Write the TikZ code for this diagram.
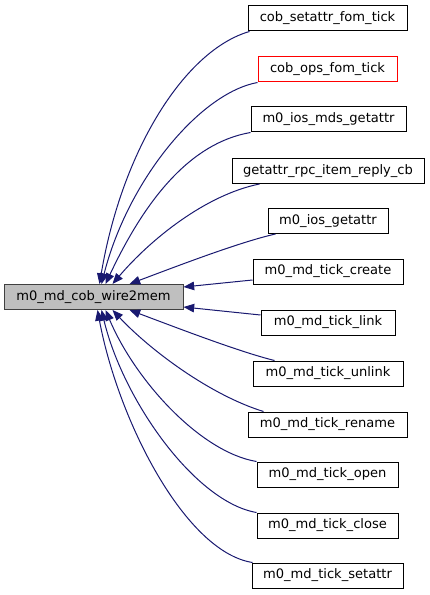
\documentclass[tikz,border=0pt]{standalone}
\usepackage{fontspec}
\setmainfont{DejaVu Sans}
\usetikzlibrary{arrows.meta,calc}
\definecolor{edgeblue}{HTML}{191970}
\definecolor{mainfill}{HTML}{BFBFBF}
\tikzset{
  box/.style={draw=black, line width=0.75pt, fill=white, inner sep=0pt, minimum height=18.75pt, font=\fontsize{9.8}{11}\selectfont},
  mainbox/.style={box, fill=mainfill, draw=black!75},
  redbox/.style={box, draw=red},
  edge/.style={draw=edgeblue, line width=0.75pt, {Triangle[length=8pt,width=6.4pt]}-}
}
\begin{document}
\begin{tikzpicture}[x=0.75pt,y=-0.75pt]
\useasboundingbox (0,0) rectangle (429,595);
\node[mainbox, minimum width=134.25pt] (main) at (93.5,297) {m0\_md\_cob\_wire2mem};
\node[box, minimum width=119.25pt] (n1) at (327.5,18.5) {cob\_setattr\_fom\_tick};
\node[redbox, minimum width=104.25pt] (n2) at (327.5,69.5) {cob\_ops\_fom\_tick};
\node[box, minimum width=116.25pt] (n3) at (328.5,119.5) {m0\_ios\_mds\_getattr};
\node[box, minimum width=144pt] (n4) at (328,171) {getattr\_rpc\_item\_reply\_cb};
\node[box, minimum width=90pt] (n5) at (328,221) {m0\_ios\_getattr};
\node[box, minimum width=112.5pt] (n6) at (328,271.5) {m0\_md\_tick\_create};
\node[box, minimum width=100.5pt] (n7) at (328,322.5) {m0\_md\_tick\_link};
\node[box, minimum width=112.5pt] (n8) at (328,373.5) {m0\_md\_tick\_unlink};
\node[box, minimum width=119.25pt] (n9) at (327.5,424.5) {m0\_md\_tick\_rename};
\node[box, minimum width=105.75pt] (n10) at (327.5,474.5) {m0\_md\_tick\_open};
\node[box, minimum width=105.75pt] (n11) at (327.5,525.5) {m0\_md\_tick\_close};
\node[box, minimum width=113.25pt] (n12) at (327.5,575.5) {m0\_md\_tick\_setattr};
% edges (arrow at main)
\draw[edge] ($(main.north west)+(96,0)$) .. controls (122,150) and (185,50) .. ($(n1.south west)+(2,0)$);
\draw[edge] ($(main.north west)+(98,0)$) .. controls (128,180) and (200,93) .. ($(n2.south west)+(0,0)$);
\draw[edge] ($(main.north west)+(102,0)$) .. controls (145,200) and (190,143) .. ($(n3.south west)+(0,0)$);
\draw[edge] ($(main.north west)+(109,0)$) .. controls (150,240) and (205,195) .. ($(n4.south west)+(28,0)$);
\draw[edge] ($(main.north west)+(126,0)$) .. controls (180,265) and (240,242) .. ($(n5.south west)+(8,0)$);
\draw[edge] ($(main.east)+(0,-10)$) -- ($(n6.west)+(0,8.5)$);
\draw[edge] ($(main.east)+(0,10)$) -- ($(n7.west)+(0,-7.5)$);
\draw[edge] ($(main.south west)+(126,0)$) .. controls (180,329) and (240,352) .. ($(n8.north west)+(22,0)$);
\draw[edge] ($(main.south west)+(109,0)$) .. controls (150,350) and (210,395) .. ($(n9.north west)+(16,0)$);
\draw[edge] ($(main.south west)+(102,0)$) .. controls (135,380) and (200,452) .. ($(n10.north west)+(0,0)$);
\draw[edge] ($(main.south west)+(98,0)$) .. controls (123,400) and (195,502) .. ($(n11.north west)+(0,0)$);
\draw[edge] ($(main.south west)+(94,0)$) .. controls (118,420) and (185,552) .. ($(n12.north west)+(1,0)$);
\end{tikzpicture}
\end{document}
